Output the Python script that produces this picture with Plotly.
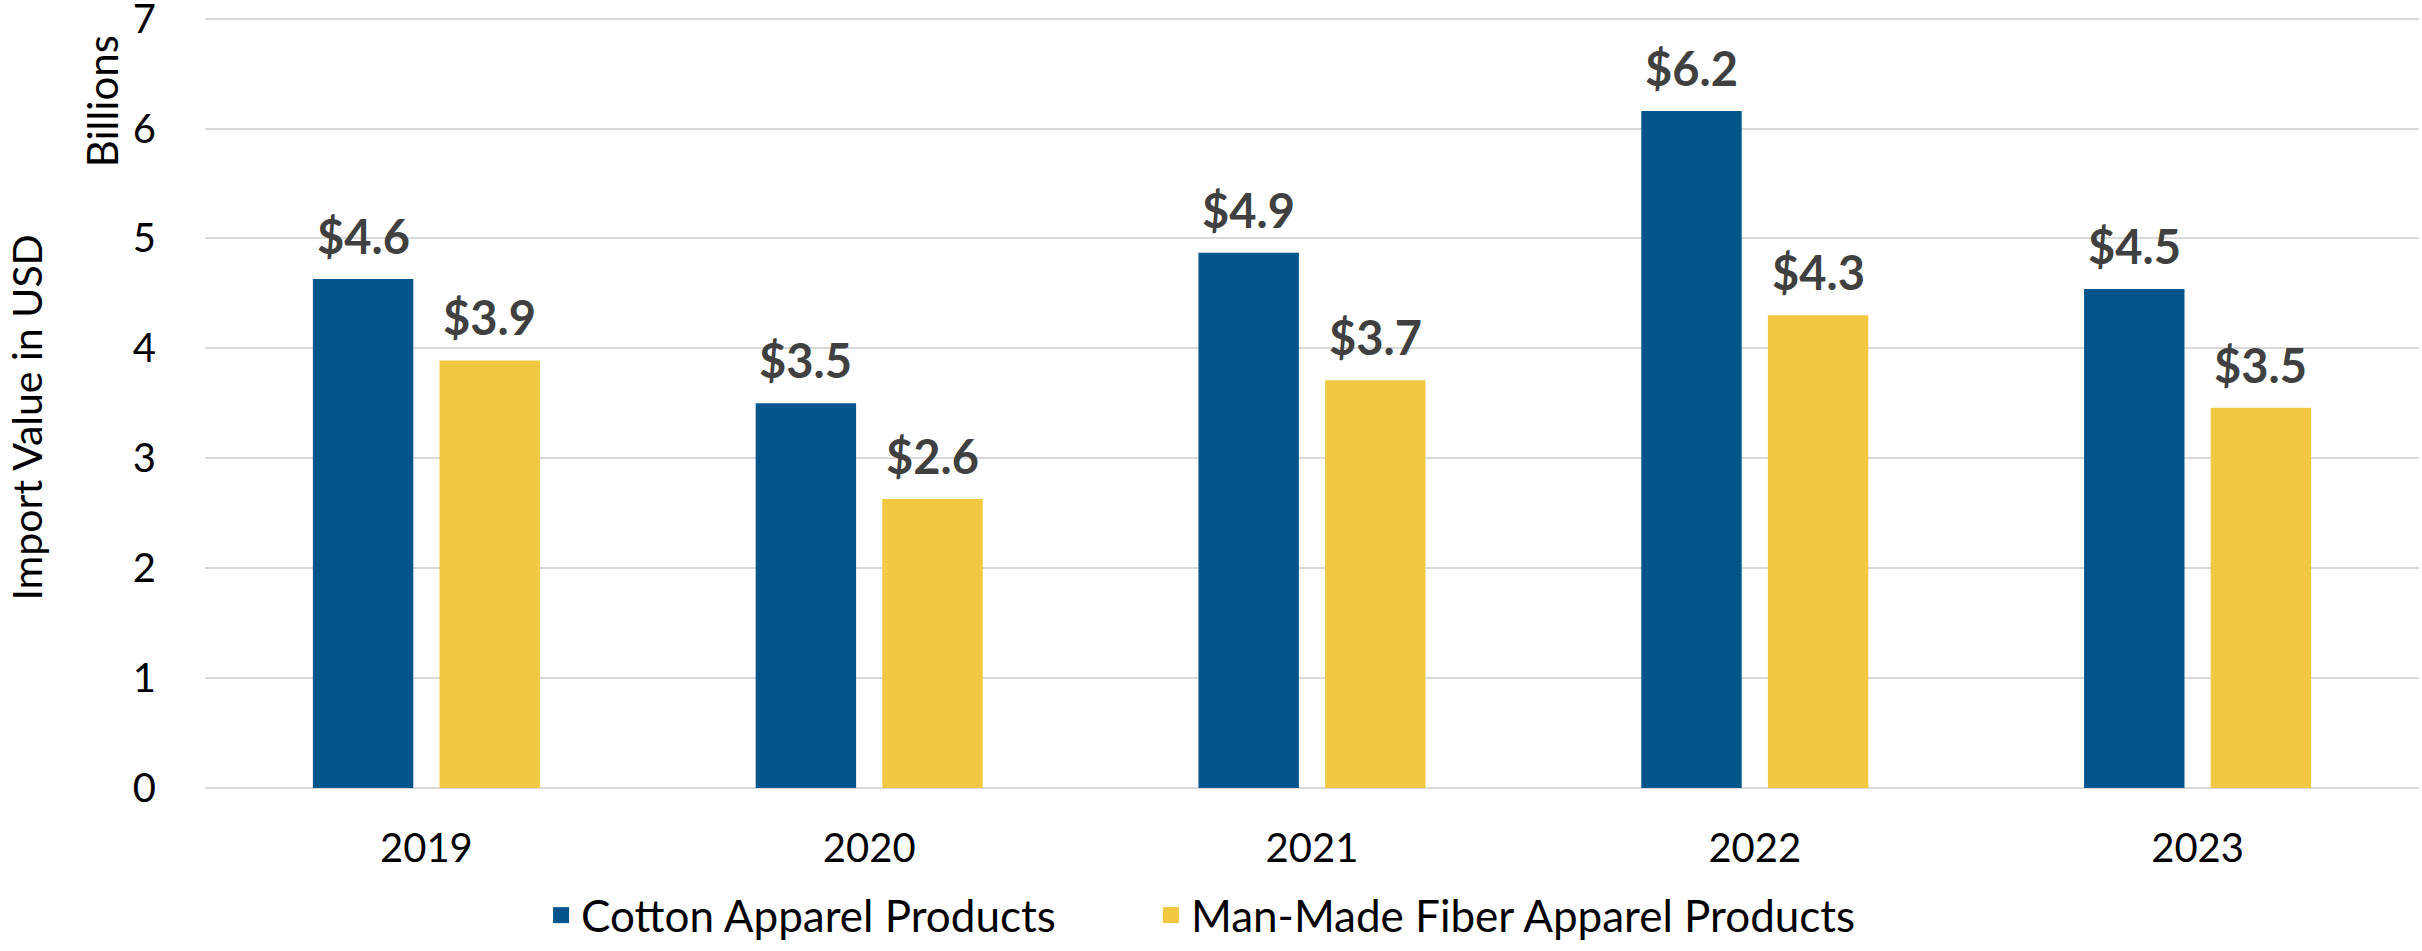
import plotly.graph_objects as go

years = ["2019", "2020", "2021", "2022", "2023"]
cotton = [4.63, 3.50, 4.87, 6.16, 4.54]
mmf = [3.89, 2.63, 3.71, 4.30, 3.46]
series_names = ["Cotton Apparel Products", "Man-Made Fiber Apparel Products"]
colors = ["#02558B", "#F2C843"]
y_ticks = [0, 1, 2, 3, 4, 5, 6, 7]

W, H = 2422, 951
ML, MR, MT, MB = 205, 3, 12, 163
BARGAP, GROUPGAP = 0.428, 0.207
FONT = "Lato"
legend_ids = ["legend", "legend2"]
legend_x = [0.2234, 0.4752]

fig = go.Figure()
for name, vals, col in zip(series_names, [cotton, mmf], colors):
    fig.add_trace(go.Bar(x=years, y=vals, name=name, showlegend=False,
                         marker=dict(color=col, line=dict(width=0))))
# legend entries with larger square swatches
for name, col, lg in zip(series_names, colors, legend_ids):
    fig.add_trace(go.Scatter(x=[None], y=[None], mode="markers", name=name, legend=lg,
                             marker=dict(symbol="square", size=26, color=col)))

# data labels above bars (x given as category index)
pw = W - ML - MR
cat_w = pw / len(years)
slot = cat_w * (1 - BARGAP) / 2
for i, vals in enumerate([cotton, mmf]):
    shift = (i - 0.5) * slot
    for k, v in enumerate(vals):
        fig.add_annotation(x=k, y=v, xref="x", yref="y", text=f"${v:.1f}", showarrow=False,
                           xanchor="center", yanchor="bottom", xshift=shift, yshift=13,
                           font=dict(family=FONT, size=47, color="#404040", weight="bold"))

fig.add_annotation(xref="paper", yref="paper", x=-0.0465, y=0.885, text="Billions",
                   textangle=-90, showarrow=False, xanchor="center", yanchor="middle",
                   font=dict(family=FONT, size=42, color="#000000"))
fig.add_annotation(xref="paper", yref="paper", x=-0.0926, y=0.478, text="Import Value in USD",
                   textangle=-90, showarrow=False, xanchor="left", yanchor="middle",
                   font=dict(family=FONT, size=41, color="#000000"))

leg_common = dict(orientation="h", xref="container", yref="container", y=0,
                  xanchor="left", yanchor="bottom",
                  font=dict(family=FONT, size=44, color="#000000"), itemwidth=30,
                  bgcolor="rgba(0,0,0,0)")

fig.update_layout(
    template="none",
    width=W, height=H,
    margin=dict(l=ML, r=MR, t=MT, b=MB, autoexpand=False),
    paper_bgcolor="white", plot_bgcolor="white",
    barmode="group", bargap=BARGAP, bargroupgap=GROUPGAP,
    font=dict(family=FONT, size=40, color="#000000"),
    showlegend=True,
    legend=dict(x=legend_x[0], **leg_common),
    legend2=dict(x=legend_x[1], **leg_common),
    yaxis=dict(range=[0, 7.06], autorange=False, tickmode="array", tickvals=y_ticks,
               automargin=False, ticklabeloverflow="allow",
               showgrid=True, gridcolor="#D9D9D9", gridwidth=2,
               zeroline=True, zerolinecolor="#D9D9D9", zerolinewidth=2,
               showline=False, ticks="outside", ticklen=40, tickcolor="rgba(0,0,0,0)",
               tickfont=dict(family=FONT, size=40, color="#000000")),
    xaxis=dict(type="category", range=[-0.5, len(years) - 0.5], autorange=False,
               automargin=False, showgrid=False, zeroline=False,
               showline=False, ticks="outside", ticklen=25, tickcolor="rgba(0,0,0,0)",
               tickfont=dict(family=FONT, size=40, color="#000000")),
)

fig.write_html("out.html", config={"displayModeBar": False},
               post_script="document.body.style.margin='0';")
